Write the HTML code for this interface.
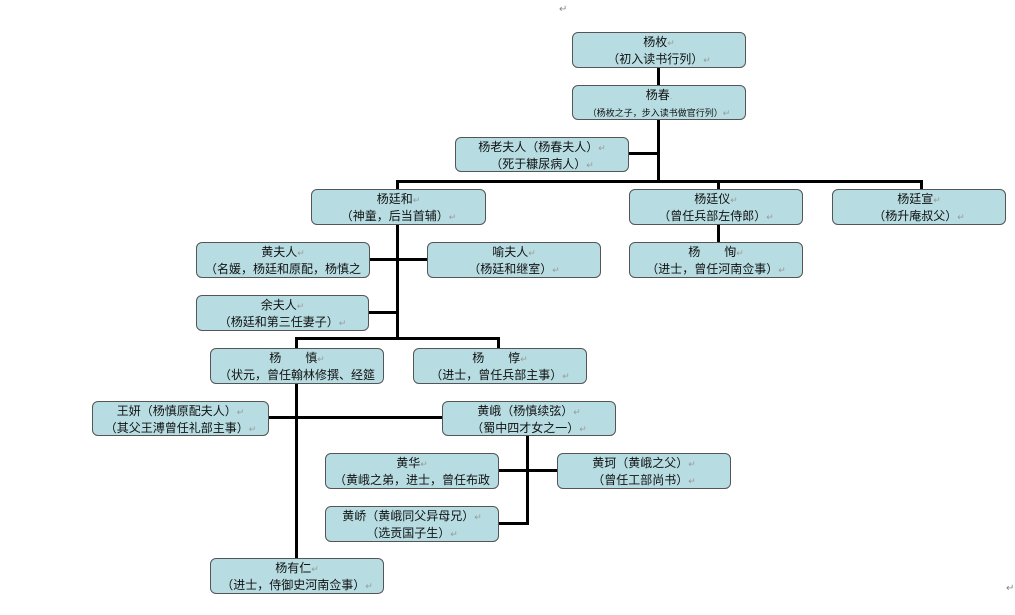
<!DOCTYPE html>
<html><head><meta charset="utf-8"><style>
body{margin:0;width:1015px;height:615px;background:#fff;position:relative;overflow:hidden;font-family:"Liberation Sans","Noto Sans CJK SC",sans-serif;}
.b{position:absolute;background:#b7dde2;border:1px solid #555;border-radius:6px;box-sizing:border-box;text-align:center;font-size:12px;line-height:16px;color:#111;overflow:hidden;white-space:nowrap;padding-top:1px;}
.l{position:absolute;background:#000;}
.r{color:#999;font-size:9px;}
.m{position:absolute;color:#888;font-size:10px;}
</style></head><body>
<div class="m" style="left:559px;top:4px">↵</div>
<div class="m" style="left:1006px;top:583px">↵</div>
<!-- lines -->
<div class="l" style="left:657px;top:67px;width:3px;height:116px"></div>
<div class="l" style="left:628px;top:152px;width:30px;height:3px"></div>
<div class="l" style="left:396px;top:180px;width:527px;height:3px"></div>
<div class="l" style="left:396px;top:180px;width:3px;height:10px"></div>
<div class="l" style="left:717px;top:180px;width:3px;height:10px"></div>
<div class="l" style="left:920px;top:180px;width:3px;height:10px"></div>
<div class="l" style="left:396px;top:224px;width:3px;height:116px"></div>
<div class="l" style="left:717px;top:224px;width:3px;height:19px"></div>
<div class="l" style="left:369px;top:258px;width:59px;height:3px"></div>
<div class="l" style="left:368px;top:311px;width:30px;height:3px"></div>
<div class="l" style="left:295px;top:337px;width:204px;height:3px"></div>
<div class="l" style="left:295px;top:337px;width:3px;height:12px"></div>
<div class="l" style="left:497px;top:337px;width:3px;height:12px"></div>
<div class="l" style="left:295px;top:383px;width:3px;height:176px"></div>
<div class="l" style="left:268px;top:416px;width:175px;height:3px"></div>
<div class="l" style="left:526px;top:435px;width:3px;height:90px"></div>
<div class="l" style="left:497px;top:469px;width:61px;height:3px"></div>
<div class="l" style="left:497px;top:522px;width:31px;height:3px"></div>
<!-- boxes -->
<div class="b" style="left:572px;top:32px;width:174px;height:36px">杨枚<span class="r">↵</span><br>（初入读书行列）<span class="r">↵</span></div>
<div class="b" style="left:572px;top:85px;width:174px;height:35px">杨春<span class="r">.</span><br><span style="font-size:9px">（杨枚之子，步入读书做官行列）</span><span class="r">↵</span></div>
<div class="b" style="left:455px;top:137px;width:174px;height:35px">杨老夫人（杨春夫人）<span class="r">↵</span><br>（死于糠尿病人）<span class="r">↵</span></div>
<div class="b" style="left:311px;top:189px;width:175px;height:36px">杨廷和<span class="r">↵</span><br>（神童，后当首辅）<span class="r">↵</span></div>
<div class="b" style="left:629px;top:189px;width:174px;height:36px">杨廷仪<span class="r">↵</span><br>（曾任兵部左侍郎）<span class="r">↵</span></div>
<div class="b" style="left:832px;top:189px;width:174px;height:36px">杨廷宣<span class="r">↵</span><br>（杨升庵叔父）<span class="r">↵</span></div>
<div class="b" style="left:196px;top:242px;width:174px;height:36px">黄夫人<span class="r">↵</span><br>（名媛，杨廷和原配，杨慎之</div>
<div class="b" style="left:427px;top:242px;width:174px;height:36px">喻夫人<span class="r">↵</span><br>（杨廷和继室）<span class="r">↵</span></div>
<div class="b" style="left:629px;top:242px;width:174px;height:36px">杨　　恂<span class="r">↵</span><br>（进士，曾任河南佥事）<span class="r">↵</span></div>
<div class="b" style="left:196px;top:295px;width:173px;height:36px">余夫人<span class="r">↵</span><br>（杨廷和第三任妻子）<span class="r">↵</span></div>
<div class="b" style="left:210px;top:348px;width:174px;height:36px">杨　　慎<span class="r">↵</span><br>（状元，曾任翰林修撰、经筵</div>
<div class="b" style="left:413px;top:348px;width:174px;height:36px">杨　　惇<span class="r">↵</span><br>（进士，曾任兵部主事）<span class="r">↵</span></div>
<div class="b" style="left:92px;top:401px;width:177px;height:35px">王妍（杨慎原配夫人）<span class="r">↵</span><br>（其父王溥曾任礼部主事）<span class="r">↵</span></div>
<div class="b" style="left:442px;top:401px;width:174px;height:35px">黄峨（杨慎续弦）<span class="r">↵</span><br>（蜀中四才女之一）<span class="r">↵</span></div>
<div class="b" style="left:325px;top:453px;width:174px;height:36px">黄华<span class="r">↵</span><br>（黄峨之弟，进士，曾任布政</div>
<div class="b" style="left:557px;top:453px;width:174px;height:36px">黄珂（黄峨之父）<span class="r">↵</span><br>（曾任工部尚书）<span class="r">↵</span></div>
<div class="b" style="left:325px;top:506px;width:174px;height:36px">黄峤（黄峨同父异母兄）<span class="r">↵</span><br>（选贡国子生）<span class="r">↵</span></div>
<div class="b" style="left:210px;top:558px;width:174px;height:36px">杨有仁<span class="r">↵</span><br>（进士，侍御史河南佥事）<span class="r">↵</span></div>
</body></html>
